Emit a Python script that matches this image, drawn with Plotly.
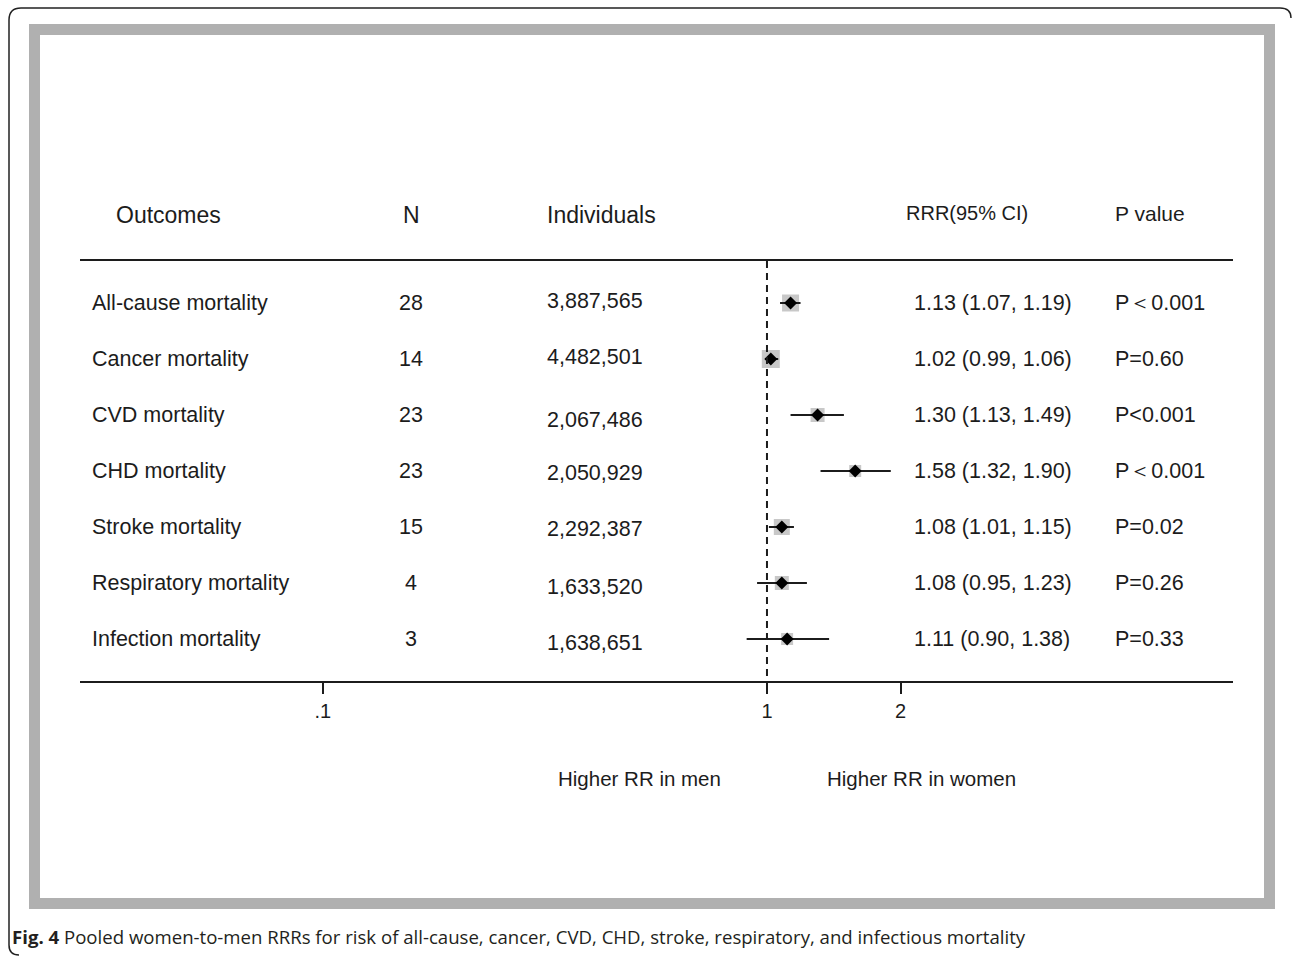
import math
import plotly.graph_objects as go

W, H = 1292, 956

# ---- data -------------------------------------------------------------
outcomes = ["All-cause mortality", "Cancer mortality", "CVD mortality", "CHD mortality",
            "Stroke mortality", "Respiratory mortality", "Infection mortality"]
n_studies = [28, 14, 23, 23, 15, 4, 3]
individuals = ["3,887,565", "4,482,501", "2,067,486", "2,050,929",
               "2,292,387", "1,633,520", "1,638,651"]
rrr = [1.13, 1.02, 1.30, 1.58, 1.08, 1.08, 1.11]
ci_low = [1.07, 0.99, 1.13, 1.32, 1.01, 0.95, 0.90]
ci_high = [1.19, 1.06, 1.49, 1.90, 1.15, 1.23, 1.38]
p_values = ["P＜0.001", "P=0.60", "P&lt;0.001", "P＜0.001", "P=0.02", "P=0.26", "P=0.33"]
tick_vals = [0.1, 1, 2]
tick_text = [".1", "1", "2"]

# ---- styling ----------------------------------------------------------
weight_square_px = [17, 18, 14, 12, 16, 14, 12]      # study-weight boxes
indiv_nudge_px = [-2, -2, 5, 2, 2, 4, 4]              # baseline jitter of the Individuals column
INK = "#1c1c1c"
BOX = "#b0b0b0"
BODY = "Liberation Sans, Arial, sans-serif"
CAP = "Open Sans, Noto Sans, sans-serif"

# axis window (ratio scale)
AX_LO, AX_HI = 0.0284, 11.2
ROW_LO, ROW_HI = -0.75, len(outcomes) - 0.25


def px(x):
    return x / W


def py(y):
    return 1 - y / H


rows = list(range(len(outcomes)))
fig = go.Figure()

# weight boxes
fig.add_trace(go.Scatter(
    x=rrr, y=rows, mode="markers",
    marker=dict(symbol="square", size=weight_square_px, color=BOX, line=dict(width=0)),
    hoverinfo="skip", showlegend=False))

# confidence intervals
ci_x, ci_y = [], []
for lo, hi, r in zip(ci_low, ci_high, rows):
    ci_x += [lo, hi, None]
    ci_y += [r, r, None]
fig.add_trace(go.Scatter(x=ci_x, y=ci_y, mode="lines",
                         line=dict(color=INK, width=2), hoverinfo="skip", showlegend=False))

# point estimates
fig.add_trace(go.Scatter(
    x=rrr, y=rows, mode="markers",
    marker=dict(symbol="diamond", size=10, color="black", line=dict(width=0)),
    hoverinfo="skip", showlegend=False))

# null line
fig.add_trace(go.Scatter(x=[1, 1], y=[ROW_LO, ROW_HI], mode="lines",
                         line=dict(color=INK, width=2, dash="7px,5px"),
                         hoverinfo="skip", showlegend=False))

ann = []


def text(x, y, s, size=21.5, anchor="left", yref="paper"):
    ann.append(dict(x=x, y=y, xref="paper", yref=yref, text=s, showarrow=False,
                    xanchor=anchor, yanchor="middle", borderpad=0,
                    font=dict(family=BODY, size=size, color=INK)))


# column headers
text(px(115), py(215), "Outcomes", 23)
text(px(411), py(215), "N", 23, "center")
text(px(546), py(215), "Individuals", 23)
text(px(905), py(213), "RRR(95% CI)", 20)
text(px(1114), py(213), "P value", 21)

# table body
for i in rows:
    text(px(91), i, outcomes[i], yref="y")
    text(px(411), i, str(n_studies[i]), anchor="center", yref="y")
    text(px(546), i + indiv_nudge_px[i] / 56, individuals[i], yref="y")
    text(px(913), i, f"{rrr[i]:.2f} ({ci_low[i]:.2f}, {ci_high[i]:.2f})", yref="y")
    text(px(1114), i, p_values[i], yref="y")

# direction labels
text(px(557), py(778), "Higher RR in men", 20.5)
text(px(826), py(778), "Higher RR in women", 20.5)

# caption
ann.append(dict(x=px(11), y=py(936), xref="paper", yref="paper", showarrow=False,
                xanchor="left", yanchor="middle", borderpad=0,
                text="<b>Fig. 4</b> Pooled women-to-men RRRs for risk of all-cause, cancer, CVD, "
                     "CHD, stroke, respiratory, and infectious mortality",
                font=dict(family=CAP, size=18.6, color="#231f20")))

shapes = [
    # grey frame
    dict(type="rect", xref="paper", yref="paper",
         x0=px(34.5), x1=px(1269.5), y0=py(903.5), y1=py(29.5),
         line=dict(color=BOX, width=11), fillcolor="rgba(0,0,0,0)", layer="below"),
    # rounded page border
    dict(type="path", xref="paper", yref="paper",
         path=(f"M {px(9)},{py(945)} L {px(9)},{py(20)} Q {px(9)},{py(8)} {px(21)},{py(8)} "
               f"L {px(1280)},{py(8)} Q {px(1291)},{py(8)} {px(1291)},{py(18)}"),
         line=dict(color="#222", width=1.5)),
    dict(type="path", xref="paper", yref="paper",
         path=f"M {px(9)},{py(945)} Q {px(9)},{py(955)} {px(19)},{py(955)}",
         line=dict(color="#222", width=1.5)),
]

fig.update_layout(
    width=W, height=H, autosize=False,
    margin=dict(l=0, r=0, t=0, b=0),
    paper_bgcolor="white", plot_bgcolor="white",
    xaxis=dict(type="log", range=[math.log10(AX_LO), math.log10(AX_HI)],
               domain=[px(80), px(1233)],
               showgrid=False, zeroline=False,
               showline=True, linecolor=INK, linewidth=2, mirror=True,
               ticks="outside", ticklen=11, tickwidth=2, tickcolor=INK,
               tickvals=tick_vals, ticktext=tick_text,
               tickfont=dict(family=BODY, size=20, color=INK)),
    yaxis=dict(range=[ROW_HI, ROW_LO], domain=[py(681), py(261)],
               visible=False, showgrid=False, zeroline=False),
    annotations=ann, shapes=shapes, showlegend=False,
)

fig.write_html("out.html")
